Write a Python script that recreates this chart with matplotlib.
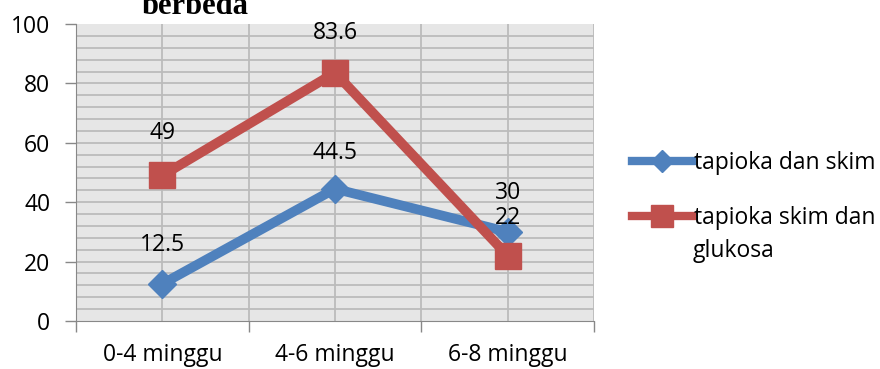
import matplotlib.pyplot as plt

# Data
categories = ["0-4 minggu", "4-6 minggu", "6-8 minggu"]
tapioka_skim = [12.5, 44.5, 30]
tapioka_skim_glukosa = [49, 83.6, 22]
series_names = ["tapioka dan skim", "tapioka skim dan", "glukosa"]

blue = "#4F81BD"
red = "#C0504D"
fs = 16.5

plt.rcParams["font.family"] = ["Open Sans", "DejaVu Sans"]

fig = plt.figure(figsize=(8.8, 3.69), dpi=100)
ax = fig.add_axes([76 / 880, 48 / 369, 518 / 880, 297 / 369])
ax.set_facecolor("#E6E6E6")

x = list(range(len(categories)))
ax.plot(x, tapioka_skim, color=blue, lw=7, marker="D", ms=14,
        label=series_names[0], zorder=3)
ax.plot(x, tapioka_skim_glukosa, color=red, lw=7, marker="s", ms=19,
        label=series_names[1], zorder=4)

# value labels (pixel offsets above each point)
offsets_blue = [39, 36, 39]
offsets_red = [42, 40, 38]
for xi, v, off in zip(x, tapioka_skim, offsets_blue):
    ax.annotate(f"{v:g}", (xi, v), xytext=(0, off), textcoords="offset pixels",
                ha="center", va="center", fontsize=fs, zorder=5)
for xi, v, off in zip(x, tapioka_skim_glukosa, offsets_red):
    ax.annotate(f"{v:g}", (xi, v), xytext=(0, off), textcoords="offset pixels",
                ha="center", va="center", fontsize=fs, zorder=5)

ax.set_xlim(-0.5, 2.5)
ax.set_ylim(0, 100)

# grid
for yv in range(4, 100, 4):
    ax.axhline(yv, color="#BBBBBB", lw=1.3, zorder=1)
for xv in [-0.5, 0, 0.5, 1, 1.5, 2, 2.5]:
    ax.axvline(xv, color="#BBBBBB", lw=1.3, zorder=1)

ax.set_yticks(range(0, 101, 20))
ax.set_xticks([-0.5, 0.5, 1.5, 2.5])
ax.set_xticks(x, minor=True)
ax.set_xticklabels([])
ax.set_xticklabels(categories, minor=True)
ax.tick_params(axis="x", which="major", length=8, width=1, color="#888888", direction="out")
ax.tick_params(axis="x", which="minor", length=0, pad=16, labelsize=fs)
ax.tick_params(axis="y", length=8, width=1, color="#888888", labelsize=fs, pad=10.5)

for side in ["top", "right"]:
    ax.spines[side].set_visible(False)
ax.spines["left"].set_color("#888888")
ax.spines["bottom"].set_color("#888888")

fig.text(195 / 880, (369 - 14) / 369, "berbeda", ha="center", va="baseline",
         family="Liberation Serif", fontweight="bold", fontsize=22)

leg = ax.legend(loc="upper left", bbox_to_anchor=(632 / 880, (369 - 151) / 369),
                bbox_transform=fig.transFigure, frameon=False, fontsize=fs,
                handlelength=2.6, handletextpad=0.1, labelspacing=1.35,
                borderpad=0, borderaxespad=0, markerscale=0.8)
for line in leg.get_lines():
    line.set_linewidth(6)

# second line of the red series name
fig.text(693 / 880, (369 - 251) / 369, series_names[2], ha="left", va="center",
         fontsize=fs)

fig.savefig("out.png", dpi=100)
